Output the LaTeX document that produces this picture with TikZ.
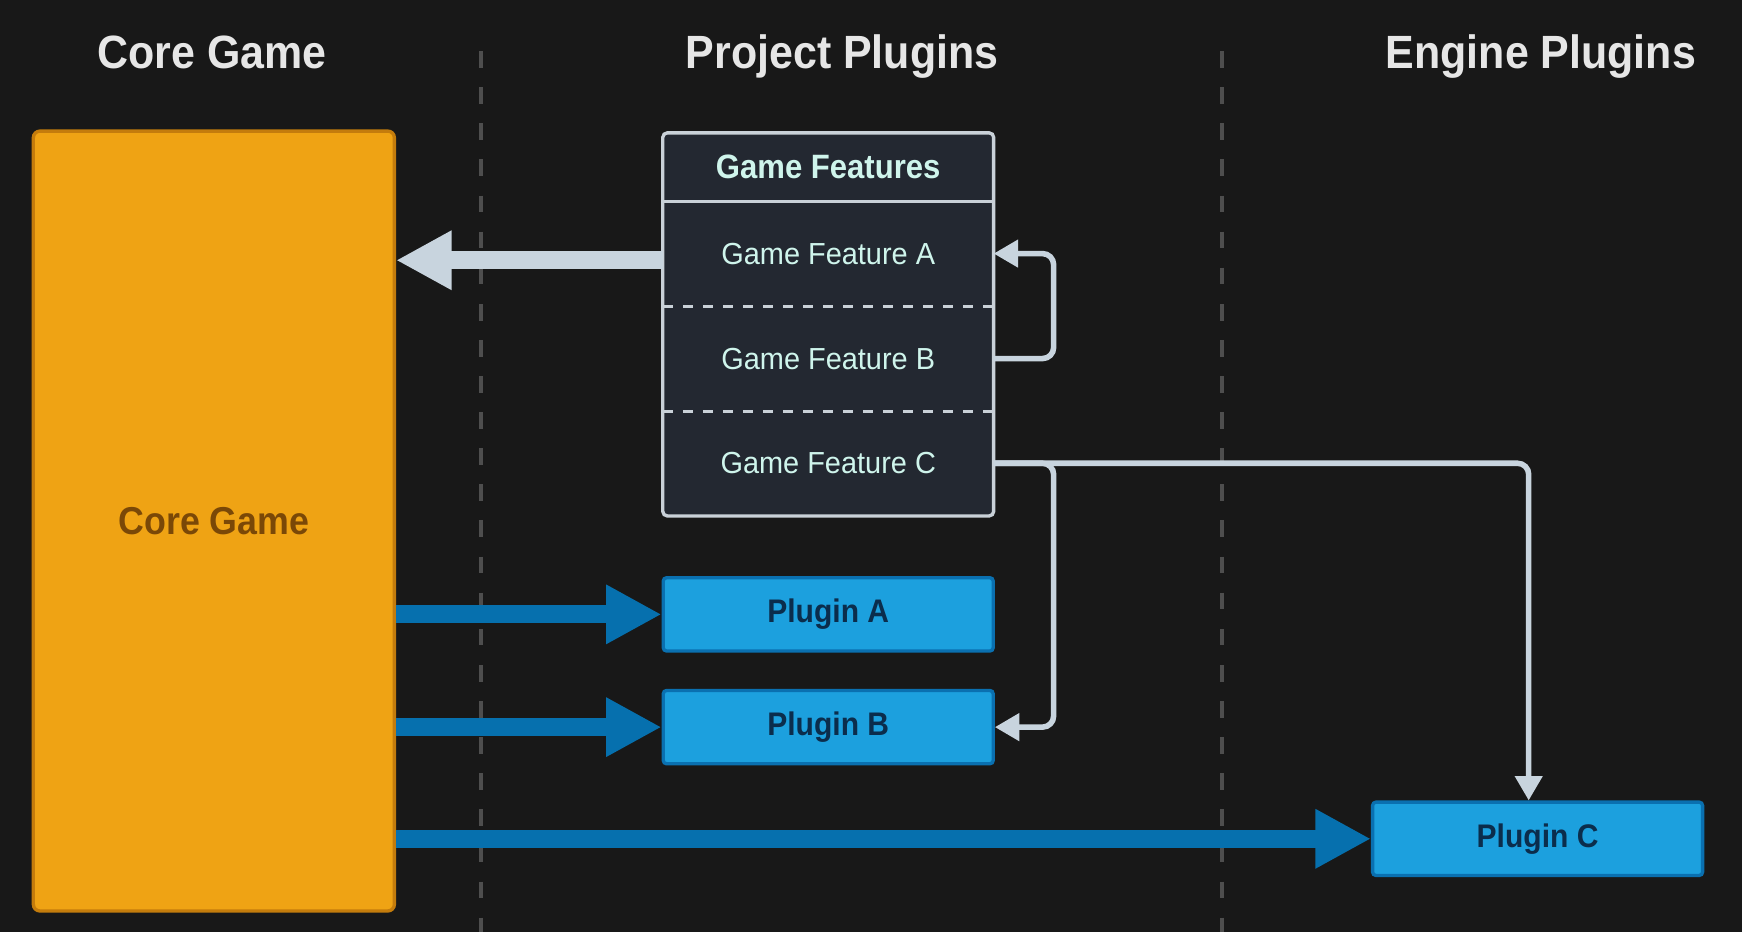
\documentclass[tikz,border=0pt]{standalone}
\usepackage{fontspec}
\setmainfont{Liberation Sans}
\newfontfamily\boldcond{Liberation Sans}[FakeStretch=0.92]
\newfontfamily\regcond{Liberation Sans}[FakeStretch=0.95]
\usetikzlibrary{arrows.meta}
\definecolor{bg}{HTML}{181818}
\definecolor{titlec}{HTML}{E6E6E6}
\definecolor{sepc}{HTML}{4E4E4E}
\definecolor{orangef}{HTML}{EFA314}
\definecolor{oranged}{HTML}{C47C0C}
\definecolor{brownt}{HTML}{7A4807}
\definecolor{gff}{HTML}{232831}
\definecolor{gfd}{HTML}{C9D1D8}
\definecolor{mint}{HTML}{CFF5EC}
\definecolor{pale}{HTML}{C8D4DE}
\definecolor{plugf}{HTML}{1CA0DE}
\definecolor{plugd}{HTML}{0A70B0}
\definecolor{plugt}{HTML}{0B2D4C}
\definecolor{bluear}{HTML}{0670AE}
\tikzset{
  titlet/.style={text=titlec,font=\boldcond\fontsize{21}{24}\selectfont\bfseries,anchor=base,inner sep=0pt},
  sepline/.style={draw=sepc,line width=2pt,dash pattern=on 7.5pt off 8.75pt},
  corebox/.style={fill=orangef,draw=oranged,line width=1.5pt,rounded corners=3pt,minimum width=162.5pt,minimum height=351pt,inner sep=0pt,text=brownt,font=\boldcond\fontsize{17.5}{20}\selectfont\bfseries},
  gfrow/.style={fill=gff,minimum width=148.5pt,inner sep=0pt,text=mint,font=\regcond\fontsize{13.7}{16}\selectfont},
  plugbox/.style={fill=plugf,draw=plugd,line width=1.5pt,rounded corners=1.5pt,minimum width=148.5pt,minimum height=33pt,inner sep=0pt,text=plugt,font=\boldcond\fontsize{14.7}{17}\selectfont\bfseries},
  bigpale/.style={draw=pale,line width=8pt,-{Triangle[length=25pt,width=25pt]}},
  bigblue/.style={draw=bluear,line width=8pt,-{Triangle[length=25pt,width=25pt]}},
  thinpale/.style={draw=pale,line width=2.5pt,rounded corners=5pt,-{Triangle[length=11pt,width=12pt]}},
}
\begin{document}
\begin{tikzpicture}[x=0.5pt,y=-0.5pt]
\fill[bg] (0,0) rectangle (1568,839);
\useasboundingbox (0,0) rectangle (1568,839);
% titles
\node[titlet] (t1) at (191,61.5) {Core Game};
\node[titlet] (t2) at (758,61.5) {Project Plugins};
\node[titlet] (t3) at (1387,61.5) {Engine Plugins};
% separators
\coordinate (s1a) at (433,46); \coordinate (s1b) at (433,839);
\coordinate (s2a) at (1100,46); \coordinate (s2b) at (1100,839);
\draw[sepline] (s1a) -- (s1b);
\draw[sepline] (s2a) -- (s2b);
% core game
\node[corebox] (core) at (192.5,469) {Core Game};
% game features
\node[gfrow,minimum height=30.5pt,font=\boldcond\fontsize{15.2}{17}\selectfont\bfseries] (gfh) at (745.5,150.5) {Game Features};
\node[gfrow,minimum height=47.25pt] (gfa) at (745.5,228.25) {Game Feature A};
\node[gfrow,minimum height=47.25pt] (gfb) at (745.5,322.75) {Game Feature B};
\node[gfrow,minimum height=47pt] (gfc) at (745.5,417) {Game Feature C};
\draw[gfd,line width=1.5pt] (gfh.south west) -- (gfh.south east);
\draw[gfd,line width=1.2pt,dash pattern=on 4.5pt off 4.5pt] (gfa.south west) -- (gfa.south east);
\draw[gfd,line width=1.2pt,dash pattern=on 4.5pt off 4.5pt] (gfb.south west) -- (gfb.south east);
\draw[gfd,line width=1.5pt,rounded corners=2pt] (gfh.north west) rectangle (gfc.south east);
% plugins
\node[plugbox] (pa) at (745.5,553) {Plugin A};
\node[plugbox] (pb) at (745.5,654.5) {Plugin B};
\node[plugbox] (pc) at (1384,755) {Plugin C};
% arrows
\draw[bigpale] ([yshift=-3pt]gfa.west) -- ([yshift=-3pt]gfa.west -| core.east);
\draw[bigblue] (pa.west -| core.east) -- (pa.west);
\draw[bigblue] (pb.west -| core.east) -- (pb.west);
\draw[bigblue] (pc.west -| core.east) -- (pc.west);
\draw[thinpale] (gfb.east) -- ++(54,0) |- (gfa.east);
\draw[thinpale] (gfc.east) -- ++(54,0) |- (pb.east);
\draw[thinpale] (gfc.east) -| ([xshift=-4pt]pc.north);
\end{tikzpicture}
\end{document}
